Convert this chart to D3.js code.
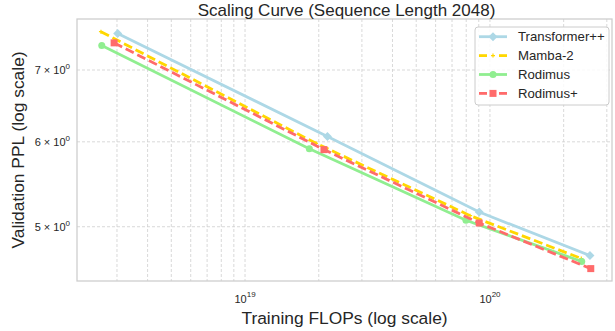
<!DOCTYPE html>
<html>
<head>
<meta charset="utf-8">
<script src="https://cdn.jsdelivr.net/npm/d3@7"></script>
<style>
  body { margin: 0; background: #fff; }
  svg text { font-family: "Liberation Sans", Arial, sans-serif; fill: #262626; }
</style>
</head>
<body>
<svg id="chart" width="615" height="331"></svg>
<script>
// values
var seriesNames = ["Transformer++", "Mamba-2", "Rodimus", "Rodimus+"];
var transformerFlops = [3.02e18, 2.17e19, 9.04e19, 2.56e20];
var transformerPpl   = [7.57, 6.07, 5.16, 4.70];
var mambaFlops = [2.58e18, 1.95e19, 8.3e19, 2.36e20];
var mambaPpl   = [7.60, 5.98, 5.12, 4.67];
var rodimusFlops = [2.60e18, 1.83e19, 7.98e19, 2.37e20];
var rodimusPpl   = [7.38, 5.91, 5.07, 4.64];
var rodimusPlusFlops = [2.92e18, 2.10e19, 9.04e19, 2.58e20];
var rodimusPlusPpl   = [7.42, 5.90, 5.04, 4.57];
var yTicks = [5, 6, 7];
var xMajorTicks = [1e19, 1e20];
var xMinorTicks = [3e18, 4e18, 5e18, 6e18, 7e18, 8e18, 9e18,
                   2e19, 3e19, 4e19, 5e19, 6e19, 7e19, 8e19, 9e19, 2e20, 3e20];

var series = [
  {name: seriesNames[0], x: transformerFlops, y: transformerPpl, color: "#add8e6", dash: null, marker: "diamond"},
  {name: seriesNames[1], x: mambaFlops, y: mambaPpl, color: "#ffd700", dash: "9,4", marker: "plus"},
  {name: seriesNames[2], x: rodimusFlops, y: rodimusPpl, color: "#90ee90", dash: null, marker: "circle"},
  {name: seriesNames[3], x: rodimusPlusFlops, y: rodimusPlusPpl, color: "#ff6b6b", dash: "9,4", marker: "square"}
];

var W = 615, H = 331,
    m = {left: 77, right: 3, top: 19, bottom: 50},
    x0 = m.left, x1 = W - m.right, y0 = m.top, y1 = H - m.bottom;

var svg = d3.select("#chart");

var x = d3.scaleLog().domain([2.06e18, 3.15e20]).range([x0, x1]);
var y = d3.scaleLog().domain([4.45, 7.81]).range([y1, y0]);

// grid
var grid = svg.append("g");
grid.selectAll(".vg").data(xMajorTicks.concat(xMinorTicks)).enter().append("line")
  .attr("x1", function(d){ return x(d); }).attr("x2", function(d){ return x(d); })
  .attr("y1", y0).attr("y2", y1)
  .attr("stroke", "#cfcfcf").attr("stroke-width", 0.8).attr("stroke-dasharray", "3,2");
grid.selectAll(".hg").data(yTicks).enter().append("line")
  .attr("x1", x0).attr("x2", x1)
  .attr("y1", function(d){ return y(d); }).attr("y2", function(d){ return y(d); })
  .attr("stroke", "#cfcfcf").attr("stroke-width", 0.8).attr("stroke-dasharray", "3,2");

// frame
svg.append("rect").attr("x", x0).attr("y", y0).attr("width", x1 - x0).attr("height", y1 - y0)
  .attr("fill", "none").attr("stroke", "#cccccc").attr("stroke-width", 1.25);

// y tick labels  (n × 10^0)
var yl = svg.append("g").selectAll("text").data(yTicks).enter().append("text")
  .attr("x", x0 - 7).attr("y", function(d){ return y(d) + 4; })
  .attr("text-anchor", "end").style("font-size", "11px");
yl.append("tspan").text(function(d){ return d + " \u00d7 10"; });
yl.append("tspan").attr("dy", -5).style("font-size", "8px").text("0");

// x tick labels (10^n)
var xl = svg.append("g").selectAll("text").data(xMajorTicks).enter().append("text")
  .attr("x", function(d){ return x(d); }).attr("y", 303)
  .attr("text-anchor", "middle").style("font-size", "11px");
xl.append("tspan").text("10");
xl.append("tspan").attr("dy", -6).style("font-size", "8px")
  .text(function(d){ return Math.round(Math.log10(d)); });

// lines + markers
var line = d3.line().x(function(d){ return x(d[0]); }).y(function(d){ return y(d[1]); });

function drawMarker(g, type, cx, cy, color) {
  if (type == "diamond") {
    g.append("path").attr("d", "M" + cx + "," + (cy - 4.5) + "L" + (cx + 4.5) + "," + cy +
      "L" + cx + "," + (cy + 4.5) + "L" + (cx - 4.5) + "," + cy + "Z").attr("fill", color);
  } else if (type == "circle") {
    g.append("circle").attr("cx", cx).attr("cy", cy).attr("r", 3.5).attr("fill", color);
  } else if (type == "square") {
    g.append("rect").attr("x", cx - 3.5).attr("y", cy - 3.5).attr("width", 7).attr("height", 7).attr("fill", color);
  } else {
    g.append("path").attr("d", "M" + (cx - 2) + "," + cy + "H" + (cx + 2) + "M" + cx + "," + (cy - 2) + "V" + (cy + 2))
      .attr("stroke", color).attr("stroke-width", 1.2);
  }
}

var plot = svg.append("g");
series.forEach(function(s) {
  var pts = s.x.map(function(v, i){ return [v, s.y[i]]; });
  plot.append("path").datum(pts).attr("d", line)
    .attr("fill", "none").attr("stroke", s.color).attr("stroke-width", 2.8)
    .attr("stroke-dasharray", s.dash);
  pts.forEach(function(p){ drawMarker(plot, s.marker, x(p[0]), y(p[1]), s.color); });
});

// legend
var lg = svg.append("g");
lg.append("rect").attr("x", 475).attr("y", 27).attr("width", 134).attr("height", 78).attr("rx", 3)
  .attr("fill", "#fff").attr("fill-opacity", 0.85).attr("stroke", "#cccccc").attr("stroke-width", 1);
series.forEach(function(s, i) {
  var ly = 36.7 + i * 18.9;
  if (s.dash) {
    lg.append("line").attr("x1", 479).attr("x2", 487).attr("y1", ly).attr("y2", ly)
      .attr("stroke", s.color).attr("stroke-width", 2.8);
    lg.append("line").attr("x1", 499).attr("x2", 507).attr("y1", ly).attr("y2", ly)
      .attr("stroke", s.color).attr("stroke-width", 2.8);
  } else {
    lg.append("line").attr("x1", 479).attr("x2", 507).attr("y1", ly).attr("y2", ly)
      .attr("stroke", s.color).attr("stroke-width", 2.8);
  }
  drawMarker(lg, s.marker, 493, ly, s.color);
  lg.append("text").attr("x", 518).attr("y", ly + 4.5).style("font-size", "13.2px").text(s.name);
});

// titles
svg.append("text").attr("x", (x0 + x1) / 2 + 2).attr("y", 15.5).attr("text-anchor", "middle")
  .style("font-size", "17px").text("Scaling Curve (Sequence Length 2048)");
svg.append("text").attr("x", (x0 + x1) / 2).attr("y", 323.5).attr("text-anchor", "middle")
  .style("font-size", "17.4px").text("Training FLOPs (log scale)");
svg.append("text").attr("transform", "translate(24," + ((y0 + y1) / 2) + ") rotate(-90)")
  .attr("text-anchor", "middle").style("font-size", "17.4px").text("Validation PPL (log scale)");
</script>
</body>
</html>
